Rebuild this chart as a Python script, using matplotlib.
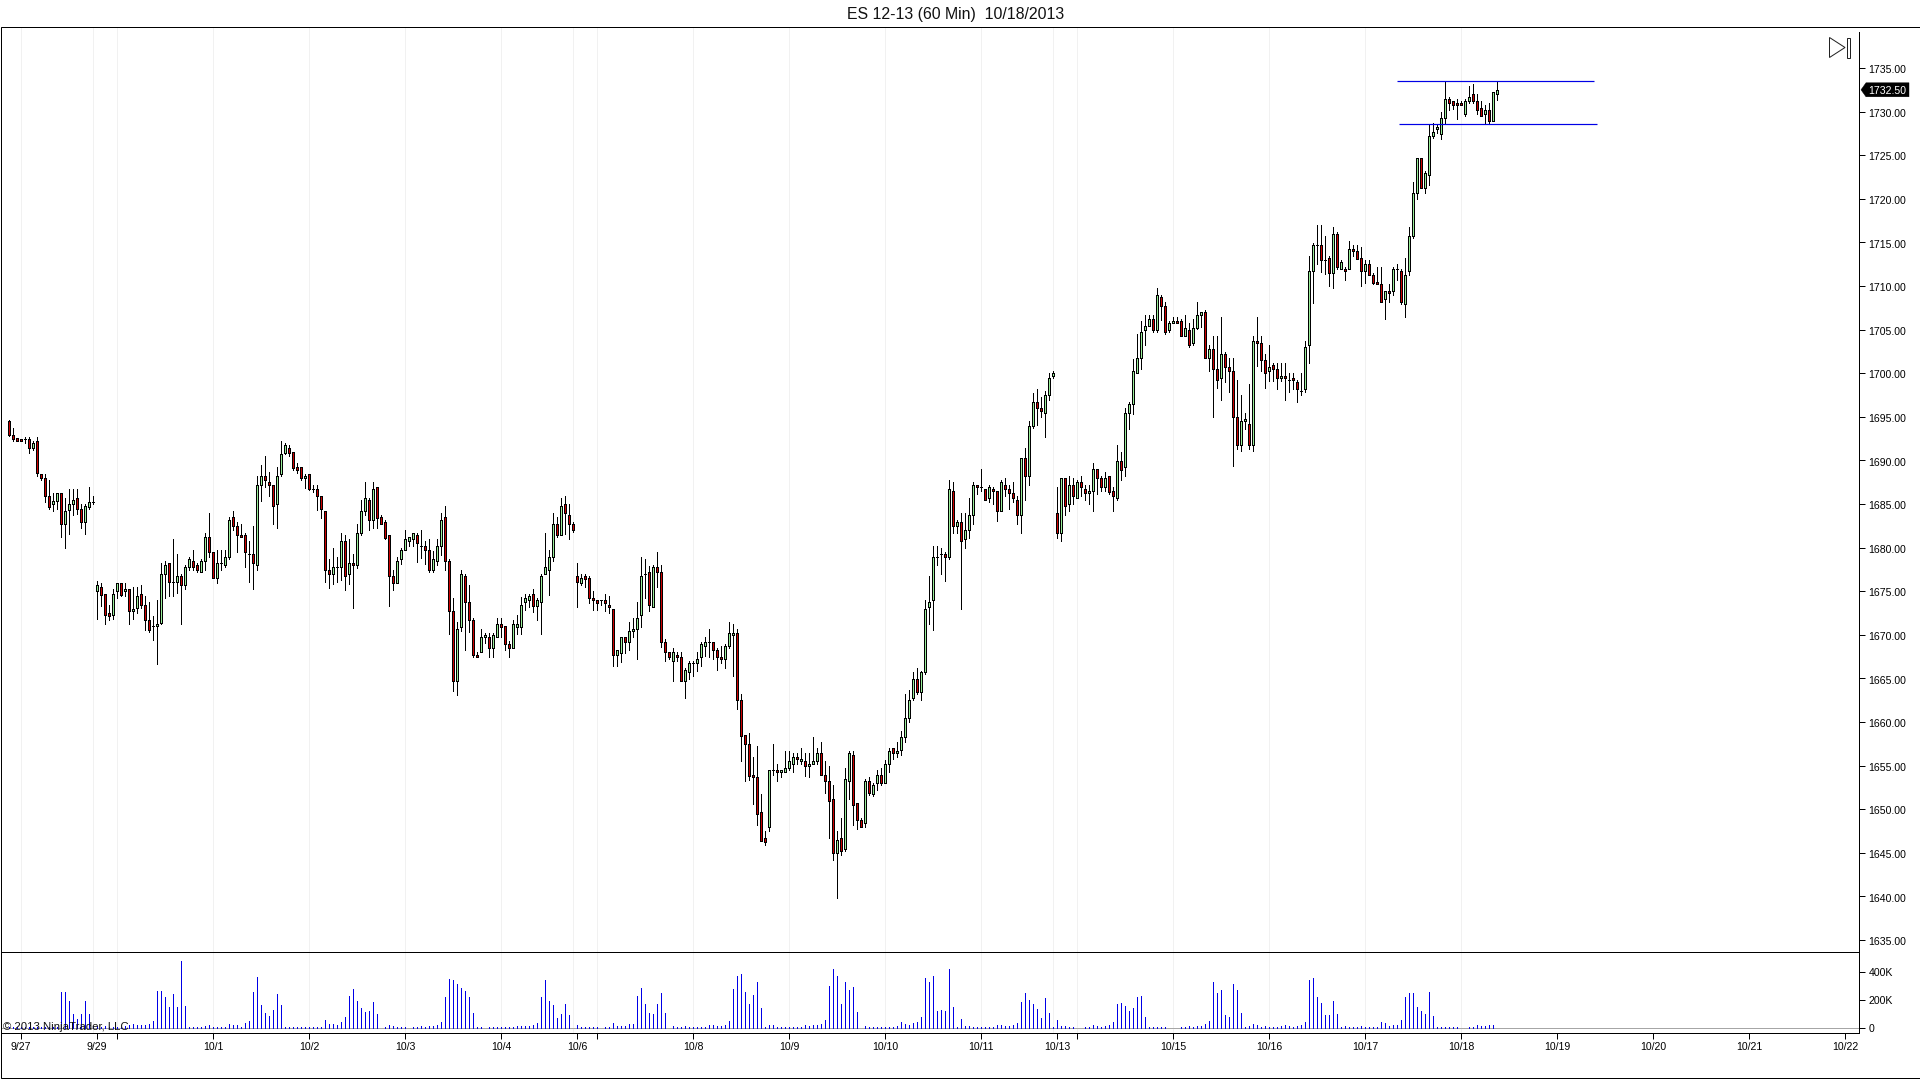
import matplotlib
matplotlib.use("Agg")
import matplotlib.pyplot as plt
from matplotlib.patches import Polygon, Rectangle
from matplotlib.transforms import blended_transform_factory, ScaledTranslation
import numpy as np

plt.rcParams['font.family'] = ['Liberation Sans', 'DejaVu Sans']

opens = [
1694.5,1692.9,1692.6,1692.4,1692.4,1692.4,1691.4,1692.2,1688.4,1688.0,1685.9,1685.0,
1685.4,1686.25,1682.7,1684.3,1685.0,1685.7,1684.4,1682.9,1684.7,1685.2,1675.0,1675.5,
1674.7,1672.5,1672.3,1675.0,1675.9,1675.0,1675.25,1672.7,1673.1,1674.7,1673.4,1671.7,
1671.0,1671.0,1671.4,1677.0,1678.2,1676.1,1676.1,1676.75,1675.7,1677.75,1678.45,1678.0,
1677.15,1678.45,1681.2,1679.5,1676.5,1678.2,1678.0,1678.9,1683.5,1682.5,1681.4,1681.4,
1679.3,1679.3,1678.0,1687.2,1688.2,1687.5,1687.2,1685.0,1688.45,1690.9,1691.4,1691.0,
1689.25,1689.25,1687.95,1688.4,1686.7,1686.7,1685.9,1684.2,1677.4,1677.0,1677.75,1677.75,
1680.75,1677.0,1678.25,1678.0,1681.65,1684.2,1685.45,1683.15,1686.95,1683.5,1682.9,1681.4,
1676.75,1675.9,1678.7,1679.7,1680.75,1681.0,1681.45,1680.2,1680.2,1679.7,1677.4,1678.45,
1680.2,1683.5,1678.45,1672.7,1664.65,1670.95,1676.75,1673.75,1671.7,1667.65,1668.0,1669.7,
1669.75,1668.5,1669.75,1671.2,1671.0,1668.95,1668.5,1670.95,1670.95,1673.75,1674.0,1674.7,
1673.35,1673.75,1676.95,1677.4,1678.9,1682.7,1681.45,1685.0,1683.75,1682.7,1676.75,1675.95,
1676.75,1676.5,1674.2,1673.95,1673.95,1673.95,1673.4,1672.95,1667.65,1667.95,1669.75,1669.15,
1670.4,1670.65,1672.25,1676.95,1677.2,1673.2,1677.75,1677.2,1669.15,1668.0,1667.0,1667.7,
1667.45,1664.7,1665.7,1666.75,1666.75,1667.45,1668.7,1669.15,1669.15,1668.25,1667.45,1667.2,
1668.7,1670.0,1670.2,1662.5,1658.5,1657.45,1653.9,1653.7,1649.65,1646.7,1647.95,1654.5,
1654.5,1654.25,1654.25,1654.7,1655.2,1656.0,1655.5,1655.5,1654.9,1655.15,1655.5,1656.4,
1653.9,1653.2,1651.15,1644.95,1646.7,1645.4,1653.2,1656.2,1650.7,1648.75,1648.4,1653.2,
1651.75,1653.0,1653.9,1653.0,1655.15,1657.0,1656.4,1656.75,1658.25,1660.5,1662.75,1664.95,
1663.45,1665.75,1673.2,1673.95,1678.9,1679.25,1679.25,1678.9,1686.5,1682.45,1682.9,1680.95,
1682.0,1683.75,1687.2,1686.95,1686.7,1685.7,1686.7,1686.5,1684.15,1687.2,1686.7,1686.25,
1685.45,1683.75,1690.25,1688.2,1693.95,1696.7,1696.0,1695.45,1697.5,1699.7,1684.0,1681.65,
1688.0,1685.0,1687.2,1685.7,1687.5,1686.7,1686.25,1686.5,1689.0,1688.0,1686.95,1688.2,
1686.5,1685.7,1689.9,1689.25,1695.45,1696.45,1700.0,1701.75,1705.0,1705.4,1706.2,1704.9,
1708.7,1707.7,1704.95,1705.75,1706.0,1706.0,1704.25,1704.95,1703.45,1705.2,1706.65,1707.0,
1701.75,1702.8,1700.5,1699.45,1702.2,1700.7,1700.25,1695.0,1691.75,1694.5,1694.15,1691.75,
1703.7,1703.45,1701.5,1700.25,1700.95,1700.45,1699.4,1699.65,1699.2,1699.45,1699.0,1697.95,
1698.15,1703.2,1711.7,1714.7,1714.7,1713.0,1713.2,1711.45,1715.95,1711.9,1711.95,1711.95,
1714.25,1714.0,1713.2,1711.7,1712.5,1711.25,1710.45,1710.2,1708.5,1709.4,1709.4,1711.95,
1711.7,1707.95,1711.7,1715.7,1720.65,1724.65,1721.25,1722.7,1727.2,1727.99,1727.4,1729.25,
1731.45,1731.2,1731.0,1731.0,1729.7,1731.2,1732.0,1731.2,1730.4,1729.7,1730.2,1728.9,1732.0]

highs = [
1694.6,1693.7,1692.6,1692.4,1692.7,1692.7,1692.2,1692.7,1688.4,1688.4,1687.8,1686.25,
1686.25,1686.3,1685.7,1686.7,1686.7,1686.7,1685.0,1685.0,1687.0,1685.9,1676.2,1675.9,
1674.7,1673.4,1675.25,1675.9,1675.9,1675.9,1675.25,1675.5,1675.5,1675.7,1674.45,1673.8,
1672.1,1674.0,1678.2,1678.45,1678.2,1681.0,1679.3,1677.0,1678.0,1678.9,1679.75,1678.2,
1678.7,1681.7,1684.0,1679.5,1679.7,1679.7,1679.7,1683.55,1684.2,1682.9,1682.7,1681.7,
1680.75,1682.5,1688.25,1689.5,1690.5,1688.7,1687.2,1689.25,1692.2,1692.0,1691.75,1691.0,
1689.7,1689.25,1688.4,1688.4,1687.2,1687.2,1685.9,1684.2,1678.7,1679.95,1678.9,1681.65,
1681.4,1681.0,1679.25,1682.7,1685.45,1687.5,1685.7,1687.5,1686.95,1683.75,1683.15,1681.4,
1677.4,1678.9,1679.95,1682.0,1681.2,1681.65,1681.65,1682.0,1680.75,1681.0,1679.6,1681.0,
1683.95,1684.75,1678.7,1674.2,1671.45,1677.4,1676.95,1675.7,1671.95,1668.0,1670.65,1670.2,
1670.2,1670.2,1671.9,1671.9,1671.0,1669.25,1671.7,1672.25,1674.3,1674.7,1674.7,1675.25,
1674.2,1677.0,1681.65,1679.7,1683.95,1683.5,1685.7,1685.9,1685.0,1682.95,1678.2,1676.95,
1676.95,1676.75,1675.0,1673.95,1673.95,1674.65,1674.45,1672.95,1668.25,1669.75,1669.75,1671.45,
1671.9,1673.75,1678.9,1678.65,1677.9,1678.0,1679.5,1678.0,1669.5,1668.0,1668.5,1668.0,
1668.0,1666.2,1667.0,1667.0,1668.0,1669.15,1669.75,1670.65,1669.15,1668.5,1668.7,1668.95,
1671.45,1671.2,1670.65,1663.2,1658.5,1658.7,1655.95,1657.25,1651.7,1647.5,1654.5,1657.45,
1655.2,1654.5,1656.65,1656.65,1656.4,1656.4,1657.0,1656.4,1656.4,1658.3,1657.0,1657.7,
1655.5,1654.95,1652.8,1647.5,1649.0,1654.7,1656.65,1656.65,1650.7,1649.0,1653.45,1653.65,
1653.0,1654.5,1654.7,1655.6,1657.0,1657.0,1657.7,1659.0,1663.25,1663.7,1665.75,1666.2,
1665.9,1674.0,1676.8,1680.2,1680.2,1679.95,1679.5,1687.75,1687.5,1683.15,1683.95,1683.95,
1685.7,1687.5,1687.2,1689.0,1686.7,1687.2,1686.95,1686.5,1687.75,1688.0,1687.2,1687.5,
1685.9,1690.25,1691.4,1694.5,1697.7,1698.2,1697.25,1697.95,1700.0,1700.25,1686.95,1688.0,
1688.0,1688.2,1688.0,1687.75,1688.2,1687.2,1687.2,1689.7,1689.0,1688.2,1688.7,1688.2,
1686.95,1691.75,1691.0,1696.0,1696.7,1701.6,1704.5,1706.0,1706.65,1706.65,1706.65,1709.75,
1708.95,1708.2,1706.0,1706.45,1706.45,1706.2,1706.65,1705.75,1706.2,1708.15,1707.0,1707.25,
1703.25,1704.25,1704.25,1706.45,1702.45,1701.75,1701.75,1699.2,1697.5,1695.45,1698.8,1704.25,
1706.45,1704.25,1702.2,1703.2,1701.15,1701.15,1701.15,1701.15,1700.0,1700.0,1699.2,1700.0,
1703.7,1713.45,1714.9,1717.0,1717.0,1715.7,1713.45,1716.75,1716.2,1713.0,1712.15,1715.15,
1714.7,1714.7,1714.45,1713.0,1713.0,1711.5,1712.15,1712.15,1709.4,1710.2,1712.2,1712.5,
1711.95,1713.2,1716.75,1721.9,1724.65,1724.65,1723.2,1728.55,1728.7,1728.55,1729.95,1733.5,
1731.65,1731.2,1731.45,1731.2,1731.45,1732.95,1733.15,1732.0,1731.2,1730.75,1731.0,1732.25,1733.5]

lows = [
1692.75,1692.2,1692.2,1692.2,1692.0,1690.9,1691.2,1688.2,1687.7,1685.2,1684.4,1684.2,
1684.4,1681.2,1679.9,1681.6,1683.7,1683.9,1682.2,1681.6,1684.4,1685.0,1671.85,1673.3,
1671.2,1671.7,1671.85,1674.2,1674.4,1674.4,1671.2,1671.85,1672.5,1673.1,1670.6,1670.35,
1669.4,1666.7,1671.2,1674.2,1674.4,1674.4,1674.8,1671.2,1675.2,1677.4,1677.4,1677.15,
1677.15,1677.4,1678.9,1676.5,1675.9,1677.4,1677.75,1678.7,1682.05,1679.5,1681.2,1677.75,
1676.1,1675.2,1677.4,1685.4,1686.9,1685.9,1682.7,1682.2,1688.2,1690.75,1690.5,1688.9,
1688.6,1687.7,1686.8,1686.65,1686.4,1684.35,1683.4,1676.1,1675.4,1675.85,1676.1,1676.3,
1675.15,1675.85,1673.1,1677.65,1681.4,1683.7,1682.0,1682.2,1682.2,1682.65,1680.95,1673.3,
1675.15,1675.9,1678.15,1679.7,1680.15,1680.15,1678.4,1678.85,1678.15,1677.15,1677.15,1678.0,
1679.15,1677.4,1670.1,1663.6,1663.15,1670.4,1668.2,1670.35,1667.4,1667.4,1668.0,1669.1,
1667.4,1667.4,1669.75,1669.75,1668.2,1667.4,1668.5,1670.1,1670.1,1672.9,1673.15,1672.65,
1671.65,1670.1,1676.95,1674.6,1678.45,1681.2,1681.45,1681.55,1681.0,1681.8,1673.15,1675.7,
1675.45,1673.7,1672.9,1672.9,1673.4,1672.7,1672.45,1666.4,1666.4,1666.9,1667.95,1668.2,
1669.7,1667.2,1670.95,1674.2,1672.7,1673.2,1675.45,1668.65,1667.0,1667.2,1664.7,1667.0,
1664.7,1662.75,1664.9,1665.25,1665.85,1666.4,1667.55,1667.45,1667.2,1665.95,1666.75,1666.2,
1668.45,1665.25,1661.45,1655.5,1653.2,1653.4,1650.65,1648.15,1646.4,1645.95,1647.5,1653.9,
1653.2,1653.65,1654.25,1654.5,1654.25,1655.2,1655.2,1653.85,1653.65,1655.15,1655.15,1653.9,
1651.85,1646.7,1644.15,1639.85,1644.75,1645.2,1651.15,1648.15,1647.7,1647.95,1647.95,1651.6,
1651.5,1652.2,1652.75,1653.0,1654.25,1655.75,1655.95,1656.25,1657.75,1660.0,1662.55,1663.2,
1662.55,1665.5,1671.25,1670.6,1677.95,1676.95,1676.15,1678.7,1681.65,1681.65,1672.95,1679.9,
1681.15,1682.65,1686.2,1686.5,1685.45,1685.2,1685.0,1683.1,1684.15,1685.9,1684.4,1685.2,
1682.65,1681.65,1685.45,1687.15,1693.7,1694.1,1695.0,1692.65,1696.9,1699.45,1681.15,1680.7,
1683.7,1684.15,1685.0,1685.7,1685.9,1685.45,1685.0,1684.15,1686.2,1686.5,1686.5,1686.2,
1684.15,1685.45,1687.8,1688.2,1693.65,1695.35,1700.0,1700.45,1703.2,1705.4,1704.7,1704.7,
1706.15,1704.5,1704.7,1705.75,1705.75,1704.25,1704.25,1703.0,1703.2,1705.05,1705.35,1701.75,
1700.25,1694.95,1698.35,1696.9,1699.0,1697.9,1689.4,1691.3,1691.1,1693.65,1691.3,1691.1,
1700.8,1700.2,1698.35,1699.1,1699.15,1698.15,1699.15,1696.9,1697.9,1698.15,1696.65,1697.45,
1697.9,1701.15,1708.1,1712.5,1711.65,1711.4,1710.0,1709.75,1711.9,1711.9,1710.65,1711.95,
1713.4,1713.1,1710.0,1710.4,1711.25,1710.2,1710.2,1708.15,1706.2,1708.15,1709.0,1710.65,
1707.95,1706.45,1711.25,1715.5,1719.95,1721.25,1720.65,1721.6,1726.95,1727.6,1726.9,1728.55,
1730.15,1730.3,1729.2,1730.75,1729.5,1731.0,1731.0,1729.7,1729.5,1728.55,1728.7,1728.9,1731.35]

closes = [
1692.9,1692.4,1692.2,1692.2,1692.4,1691.4,1692.0,1688.6,1688.0,1685.9,1684.7,1685.4,
1686.25,1682.7,1684.2,1685.0,1685.5,1684.4,1682.9,1684.75,1685.2,1685.2,1675.7,1674.6,
1672.3,1672.2,1674.7,1675.9,1674.6,1675.25,1672.7,1673.0,1674.4,1673.4,1671.7,1670.6,
1671.0,1671.2,1677.0,1678.0,1676.1,1676.1,1676.75,1675.7,1677.75,1678.7,1677.75,1677.4,
1678.45,1681.2,1679.5,1676.5,1678.2,1678.2,1678.9,1683.2,1682.5,1681.4,1681.2,1679.5,
1679.3,1678.2,1687.2,1688.2,1687.75,1687.2,1684.75,1688.2,1690.75,1691.75,1690.9,1689.1,
1688.9,1687.95,1688.2,1686.7,1686.7,1685.9,1684.4,1677.4,1677.0,1677.75,1677.75,1680.75,
1676.75,1678.25,1678.0,1681.65,1684.2,1685.7,1683.15,1686.7,1683.45,1682.65,1681.15,1676.75,
1675.9,1678.45,1679.7,1680.95,1681.2,1681.65,1680.5,1680.2,1679.7,1677.4,1678.7,1680.2,
1683.15,1678.45,1672.7,1664.65,1670.65,1676.95,1673.75,1671.7,1667.65,1667.4,1669.75,1670.0,
1668.5,1670.0,1671.2,1670.95,1668.95,1668.45,1671.2,1671.2,1673.4,1674.2,1674.45,1673.35,
1674.0,1676.75,1677.75,1678.9,1682.7,1681.45,1684.75,1683.95,1682.7,1682.0,1676.1,1676.5,
1676.45,1674.2,1673.95,1673.7,1673.95,1673.7,1673.15,1667.65,1668.25,1669.75,1669.15,1670.45,
1670.65,1671.9,1676.75,1676.95,1673.4,1677.75,1677.2,1669.15,1668.0,1667.45,1668.0,1667.45,
1664.7,1665.95,1666.75,1666.75,1667.2,1668.95,1669.15,1669.15,1668.25,1667.45,1667.2,1668.7,
1670.2,1670.2,1662.5,1658.45,1657.45,1653.85,1653.65,1649.4,1646.4,1646.2,1654.5,1654.5,
1654.25,1654.5,1654.7,1655.5,1656.0,1655.75,1655.75,1654.9,1655.15,1655.5,1656.4,1653.9,
1653.2,1650.95,1644.95,1646.45,1645.2,1653.45,1656.4,1650.45,1648.75,1647.95,1653.2,1651.85,
1652.75,1653.9,1653.0,1655.15,1656.65,1656.4,1656.65,1658.25,1660.5,1662.5,1664.95,1663.45,
1665.75,1672.95,1673.75,1678.9,1678.9,1679.25,1678.9,1686.7,1682.45,1682.9,1680.75,1682.0,
1683.75,1687.2,1686.95,1686.95,1685.45,1686.95,1686.5,1684.15,1687.5,1686.7,1686.25,1685.7,
1683.75,1690.25,1688.2,1693.95,1696.7,1696.0,1695.65,1697.5,1699.45,1700.0,1681.65,1688.0,
1684.75,1687.2,1685.9,1687.5,1686.95,1686.25,1686.5,1689.0,1688.0,1686.95,1688.0,1686.35,
1685.9,1689.9,1688.9,1695.45,1696.45,1700.25,1701.75,1704.7,1705.4,1706.2,1704.9,1708.95,
1707.7,1704.7,1705.75,1706.0,1705.75,1704.25,1705.2,1703.2,1705.2,1706.65,1707.0,1701.75,
1702.8,1700.5,1699.2,1702.2,1700.7,1700.25,1695.0,1691.75,1694.5,1694.75,1691.75,1703.7,
1703.45,1701.5,1700.0,1700.7,1700.45,1699.4,1699.65,1699.4,1699.2,1699.2,1698.15,1697.95,
1703.0,1711.7,1714.7,1714.7,1713.0,1713.0,1711.45,1715.95,1712.15,1712.75,1711.7,1714.25,
1714.0,1713.15,1711.7,1712.5,1711.25,1710.4,1710.2,1708.15,1709.4,1709.2,1711.95,1711.95,
1708.15,1711.25,1715.7,1720.65,1724.65,1721.25,1722.95,1727.2,1727.65,1728.2,1729.25,1731.45,
1731.0,1730.75,1730.75,1730.75,1731.2,1731.65,1731.2,1730.2,1729.5,1730.2,1728.9,1732.25,1732.5]

volumes_k = [
12,12,12,12,12,12,12,12,12,12,12,12,12,
258,258,195,103,68,103,195,103,
15,14,12,19,12,12,12,12,19,26,33,26,22,26,33,54,
265,265,223,153,244,153,477,160,
12,12,12,12,19,26,12,12,12,12,33,26,26,12,40,54,
258,364,167,110,89,132,244,167,
12,12,12,12,12,12,12,12,12,12,
61,33,33,26,47,82,
230,280,195,146,118,125,188,103,
0,12,26,19,12,12,12,0,12,12,19,12,19,19,26,47,
223,350,343,315,287,265,223,110,
12,12,0,12,12,12,12,12,12,12,19,19,19,19,26,40,
223,343,195,167,75,103,174,96,
0,26,12,12,12,12,12,0,12,12,40,19,19,19,33,33,
230,287,174,110,103,174,251,110,
0,19,12,12,19,12,12,12,12,12,26,26,19,19,26,54,
280,371,385,258,174,237,329,146,
12,26,26,12,12,12,12,12,12,12,26,19,26,26,33,61,
300,420,371,174,329,272,293,118,
0,19,12,12,12,12,12,12,12,19,47,33,26,40,47,82,
357,329,371,125,132,125,420,153,
12,68,19,19,12,12,12,12,12,12,26,26,19,19,26,40,
188,251,202,174,139,75,216,110,
12,61,19,19,12,12,0,0,12,12,26,19,12,19,26,47,
174,181,160,125,146,223,230,82,
12,12,12,12,12,0,0,0,12,12,19,12,19,19,33,54,
329,251,272,96,82,315,272,110,
12,19,33,26,12,19,12,12,12,19,26,19,12,19,26,47,
343,357,223,181,96,96,195,103,
12,19,12,12,12,19,12,12,12,12,47,40,19,26,26,61,
223,251,251,153,125,103,258,89,
12,12,12,12,12,12,0,0,12,12,26,19,19,26,26,0]

price_ticks = list(range(1635, 1740, 5))
volume_ticks = [0, 200, 400]
volume_tick_labels = ["0", "200K", "400K"]
date_positions = [3,22,51,75,99,123,142,171,195,219,243,262,291,315,339,363,387,411,435,459]
date_labels = ["9/27","9/29","10/1","10/2","10/3","10/4","10/6","10/8","10/9","10/10",
               "10/11","10/13","10/15","10/16","10/17","10/18","10/19","10/20","10/21","10/22"]
session_breaks = [27,147,267]
grid_positions = [3,21,27,51,75,99,123,141,147,171,195,219,243,261,267,291,315,339,363]
last_price = 1732.50
range_high = 1733.5
range_low = 1728.6
range_high_span = (347, 396.3)
range_low_span = (347.4, 396.9)

n = min(len(opens), len(highs), len(lows), len(closes), len(volumes_k))
x = np.arange(n)
o, h, l, c = (np.array(a[:n]) for a in (opens, highs, lows, closes))
v = np.array(volumes_k[:n])

W, H = 1920, 1079
fig = plt.figure(figsize=(W/100, H/100), dpi=100, facecolor='white')
def box(l_, t, r, b):
    return [l_/W, 1-b/H, (r-l_)/W, (b-t)/H]

PX = 0.72
FS = 7.6
LEFT, RIGHT, TOP, MID, BOT = 0.5, 1859.0, 27.0, 952.0, 1033.0
ZERO_X, Y1735, Y0VOL = 9.0, 68.0, 1028.4
ax = fig.add_axes(box(LEFT, TOP, RIGHT, MID))
vx = fig.add_axes(box(LEFT, MID, RIGHT, BOT))
xlim = ((LEFT-ZERO_X)/4, (RIGHT-ZERO_X)/4)
for a in (ax, vx):
    a.set_xlim(*xlim)
    a.set_facecolor('white')
    for s in a.spines.values():
        s.set_linewidth(PX)
        s.set_color('black')
    a.spines['left'].set_visible(False)
    a.set_axisbelow(True)
    a.vlines(grid_positions, 0, 1, transform=a.get_xaxis_transform(), colors='#f1f1f1',
             linewidth=PX, antialiased=False, zorder=0.5)

ymax = 1735 + (Y1735-TOP)/8.72
ymin = 1735 - (MID-Y1735)/8.72
ax.set_ylim(ymin, ymax)
ax.spines['top'].set_visible(False)
ax.spines['right'].set_bounds(ymin, 1735 + (Y1735-32.5)/8.72)
ax.yaxis.tick_right()
ax.set_yticks(price_ticks)
ax.set_yticklabels([f"{p:.2f}" for p in price_ticks])
ax.tick_params(axis='y', length=4.3, width=PX, pad=2.5, labelsize=FS)
ax.set_xticks([])
label_shift = ScaledTranslation(0, -1.2/100, fig.dpi_scale_trans)
for lbl in ax.get_yticklabels():
    lbl.set_transform(lbl.get_transform() + label_shift)

up = c >= o
ax.vlines(x, l, h, colors='black', linewidth=PX, antialiased=False, zorder=2)
ax.bar(x[up], (c-o)[up], bottom=o[up], width=0.5, color='#99ee99', edgecolor='black',
       linewidth=PX, antialiased=False, zorder=3)
ax.bar(x[~up], (c-o)[~up], bottom=o[~up], width=0.5, color='#cc0000', edgecolor='black',
       linewidth=PX, antialiased=False, zorder=3)
ax.hlines([range_high], *range_high_span, colors='#0000e6', linewidth=PX*1.2, zorder=4)
ax.hlines([range_low], *range_low_span, colors='#0000e6', linewidth=PX*1.2, zorder=4)

vscale = 200/28.4
vx.set_ylim(-(BOT-Y0VOL)*vscale, (Y0VOL-MID)*vscale)
vx.axhline(0, color='#a6a6a6', linewidth=PX, zorder=1)
vx.vlines(x[v > 0], 0, v[v > 0], colors='#0000e6', linewidth=PX, antialiased=False, zorder=2)
vx.yaxis.tick_right()
vx.set_yticks(volume_ticks)
vx.set_yticklabels(volume_tick_labels)
vx.tick_params(axis='y', length=4.3, width=PX, pad=2.5, labelsize=FS)
vx.set_xticks(date_positions + session_breaks)
vx.set_xticklabels(date_labels + [""]*len(session_breaks))
vx.tick_params(axis='x', length=4.3, width=PX, pad=2.5, labelsize=FS)
vx.text(2/1858, 13, "\u00a9 2013 NinjaTrader, LLC",
        transform=blended_transform_factory(vx.transAxes, vx.transData),
        fontsize=8.2, va='center', ha='left', color='#111111', zorder=5, clip_on=False)

def px(xp, yp):
    return (xp/W, 1-yp/H)

fig.add_artist(Rectangle(px(0.5, 1078.0), 1919/W, (1078.0-TOP)/H, transform=fig.transFigure,
                         fill=False, edgecolor='black', linewidth=PX))
fig.text(956/W, 1-14/H, "ES 12-13 (60 Min)  10/18/2013", ha='center', va='center', fontsize=11.4, color='#111111')

yc = H - ax.transData.transform((0, last_price))[1]
fig.add_artist(Polygon([px(1861, yc), px(1866, yc-7), px(1909, yc-7), px(1909, yc+7), px(1866, yc+7)],
                       closed=True, transform=fig.transFigure, facecolor='black', edgecolor='black', linewidth=0.3))
fig.text(1887.5/W, 1-yc/H, f"{last_price:.2f}", color='white', ha='center', va='center_baseline', fontsize=FS)

fig.add_artist(Polygon([px(1829.5, 37.5), px(1845, 47.5), px(1829.5, 57.5)], closed=True,
                       transform=fig.transFigure, facecolor='white', edgecolor='#222222', linewidth=PX))
fig.add_artist(Rectangle(px(1846.5, 57.5), 3/W, 20/H, transform=fig.transFigure,
                         facecolor='white', edgecolor='#222222', linewidth=PX))

fig.savefig("out.png", dpi=100, facecolor='white')
